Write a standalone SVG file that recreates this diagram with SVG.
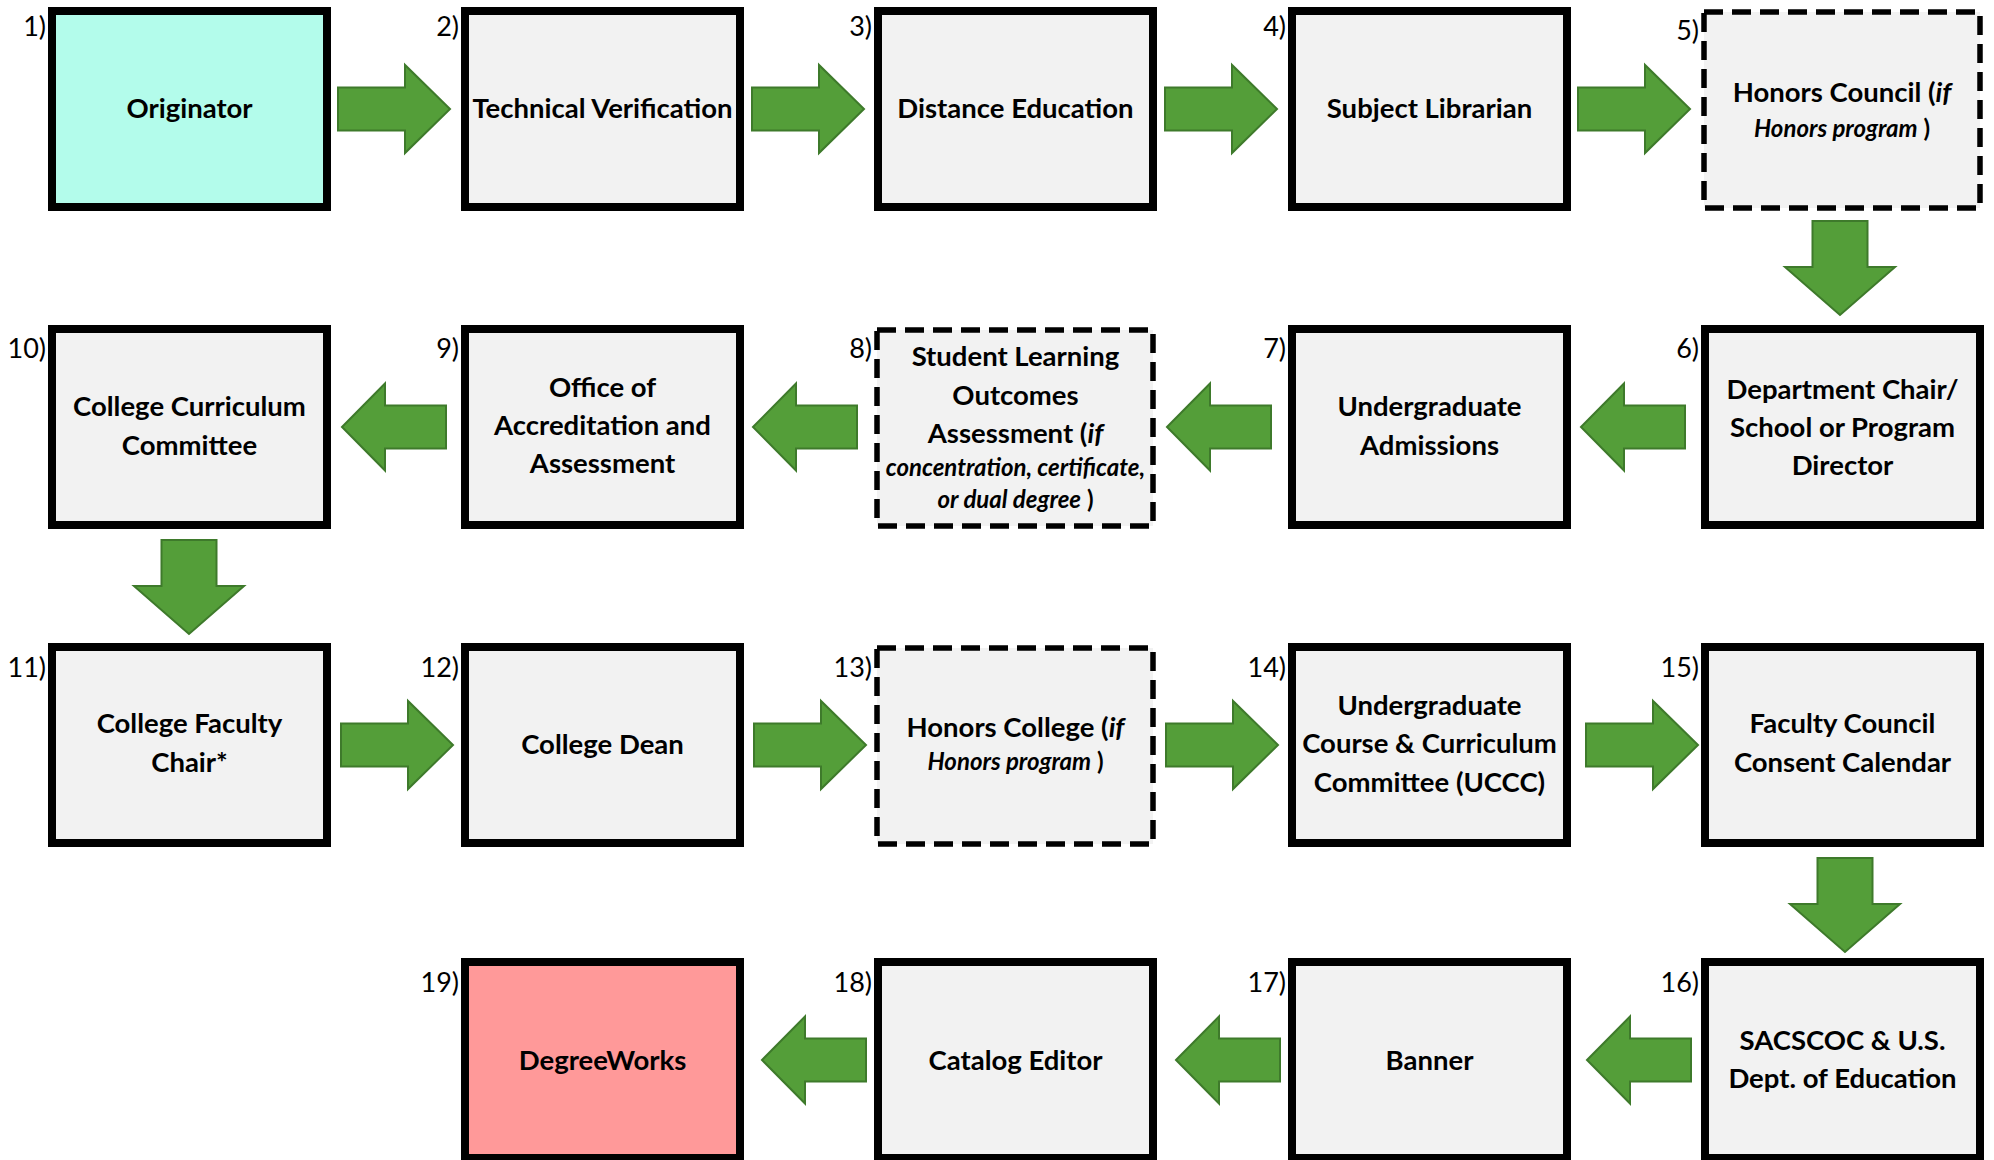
<svg xmlns="http://www.w3.org/2000/svg" width="1994" height="1160" viewBox="0 0 1994 1160">
<style>
.box{fill:#F2F2F2;stroke:#000;stroke-width:8}
.dash{fill:#F2F2F2;stroke:#000;stroke-width:5.5;stroke-dasharray:19 9}
.t{font-family:Lato,"Liberation Sans",sans-serif;font-weight:700;font-size:27.5px;text-anchor:middle;fill:#000}
.i{font-style:italic}
.s{font-size:24px}
.n{font-family:Lato,"Liberation Sans",sans-serif;font-weight:400;font-size:27px;text-anchor:end;fill:#000}
.arr{fill:#549E39;stroke:#3E7A2B;stroke-width:2}
</style>
<defs>
<path id="ar" d="M0,-21.5 H67 V-44 L112,0 L67,44 V21.5 H0 Z"/>
<path id="al" d="M0,0 L43,-43.5 V-21.5 H104 V21.5 H43 V43.5 Z"/>
<path id="ad" d="M-27.5,0 H27.5 V46 H55 L0,94 L-55,46 H-27.5 Z"/>
</defs>
<g id="connectors" class="arr">
<use href="#ar" x="338" y="109"/>
<use href="#ar" x="752" y="109"/>
<use href="#ar" x="1165" y="109"/>
<use href="#ar" x="1578" y="109"/>
<use href="#ad" x="1840" y="221"/>
<use href="#al" x="1581" y="427"/>
<use href="#al" x="1167" y="427"/>
<use href="#al" x="753" y="427"/>
<use href="#al" x="342" y="427"/>
<use href="#ad" x="189" y="540"/>
<use href="#ar" x="341" y="745"/>
<use href="#ar" x="754" y="745"/>
<use href="#ar" x="1166" y="745"/>
<use href="#ar" x="1586" y="745"/>
<use href="#ad" x="1845" y="858"/>
<use href="#al" x="1587" y="1060"/>
<use href="#al" x="1176" y="1060"/>
<use href="#al" x="762" y="1060"/>
</g>
<g id="n1"><rect class="box" x="52" y="11" width="275" height="196" style="fill:#B3FCEB"/><text class="n" x="46" y="36">1)</text><text class="t" x="189.5" y="118">Originator</text></g>
<g id="n2"><rect class="box" x="465" y="11" width="275" height="196"/><text class="n" x="459" y="36">2)</text><text class="t" x="602.5" y="118">Technical Verification</text></g>
<g id="n3"><rect class="box" x="878" y="11" width="275" height="196"/><text class="n" x="872" y="36">3)</text><text class="t" x="1015.5" y="118">Distance Education</text></g>
<g id="n4"><rect class="box" x="1292" y="11" width="275" height="196"/><text class="n" x="1286" y="36">4)</text><text class="t" x="1429.5" y="118">Subject Librarian</text></g>
<g id="n5"><rect class="dash" x="1704" y="12" width="276" height="196"/><text class="n" x="1699" y="40">5)</text><text class="t" x="1842" y="102">Honors Council (<tspan class="i">if</tspan></text><text class="t s" x="1842" y="137"><tspan class="i">Honors program</tspan> )</text></g>
<g id="n6"><rect class="box" x="1705" y="329" width="275" height="196"/><text class="n" x="1699" y="358">6)</text><text class="t" x="1842.5" y="399">Department Chair/</text><text class="t" x="1842.5" y="437">School or Program</text><text class="t" x="1842.5" y="475">Director</text></g>
<g id="n7"><rect class="box" x="1292" y="329" width="275" height="196"/><text class="n" x="1286" y="358">7)</text><text class="t" x="1429.5" y="416">Undergraduate</text><text class="t" x="1429.5" y="455">Admissions</text></g>
<g id="n8"><rect class="dash" x="877" y="330" width="276" height="196"/><text class="n" x="872" y="358">8)</text><text class="t" x="1015.5" y="366">Student Learning</text><text class="t" x="1015.5" y="405">Outcomes</text><text class="t" x="1015.5" y="443">Assessment (<tspan class="i">if</tspan></text><text class="t s i" x="1015.5" y="476">concentration, certificate,</text><text class="t s" x="1015.5" y="508"><tspan class="i">or dual degree</tspan> )</text></g>
<g id="n9"><rect class="box" x="465" y="329" width="275" height="196"/><text class="n" x="459" y="358">9)</text><text class="t" x="602.5" y="397">Office of</text><text class="t" x="602.5" y="435">Accreditation and</text><text class="t" x="602.5" y="473">Assessment</text></g>
<g id="n10"><rect class="box" x="52" y="329" width="275" height="196"/><text class="n" x="46" y="358">10)</text><text class="t" x="189.5" y="416">College Curriculum</text><text class="t" x="189.5" y="455">Committee</text></g>
<g id="n11"><rect class="box" x="52" y="647" width="275" height="196"/><text class="n" x="46" y="677">11)</text><text class="t" x="189.5" y="733">College Faculty</text><text class="t" x="189.5" y="772">Chair*</text></g>
<g id="n12"><rect class="box" x="465" y="647" width="275" height="196"/><text class="n" x="459" y="677">12)</text><text class="t" x="602.5" y="754">College Dean</text></g>
<g id="n13"><rect class="dash" x="877" y="648" width="276" height="196"/><text class="n" x="872" y="677">13)</text><text class="t" x="1015.5" y="737">Honors College (<tspan class="i">if</tspan></text><text class="t s" x="1015.5" y="770"><tspan class="i">Honors program</tspan> )</text></g>
<g id="n14"><rect class="box" x="1292" y="647" width="275" height="196"/><text class="n" x="1286" y="677">14)</text><text class="t" x="1429.5" y="715">Undergraduate</text><text class="t" x="1429.5" y="753">Course &amp; Curriculum</text><text class="t" x="1429.5" y="792">Committee (UCCC)</text></g>
<g id="n15"><rect class="box" x="1705" y="647" width="275" height="196"/><text class="n" x="1699" y="677">15)</text><text class="t" x="1842.5" y="733">Faculty Council</text><text class="t" x="1842.5" y="772">Consent Calendar</text></g>
<g id="n16"><rect class="box" x="1705" y="962" width="275" height="196"/><text class="n" x="1699" y="992">16)</text><text class="t" x="1842.5" y="1050">SACSCOC &amp; U.S.</text><text class="t" x="1842.5" y="1088">Dept. of Education</text></g>
<g id="n17"><rect class="box" x="1292" y="962" width="275" height="196"/><text class="n" x="1286" y="992">17)</text><text class="t" x="1429.5" y="1070">Banner</text></g>
<g id="n18"><rect class="box" x="878" y="962" width="275" height="196"/><text class="n" x="872" y="992">18)</text><text class="t" x="1015.5" y="1070">Catalog Editor</text></g>
<g id="n19"><rect class="box" x="465" y="962" width="275" height="196" style="fill:#FF9999"/><text class="n" x="459" y="992">19)</text><text class="t" x="602.5" y="1070">DegreeWorks</text></g>
</svg>
